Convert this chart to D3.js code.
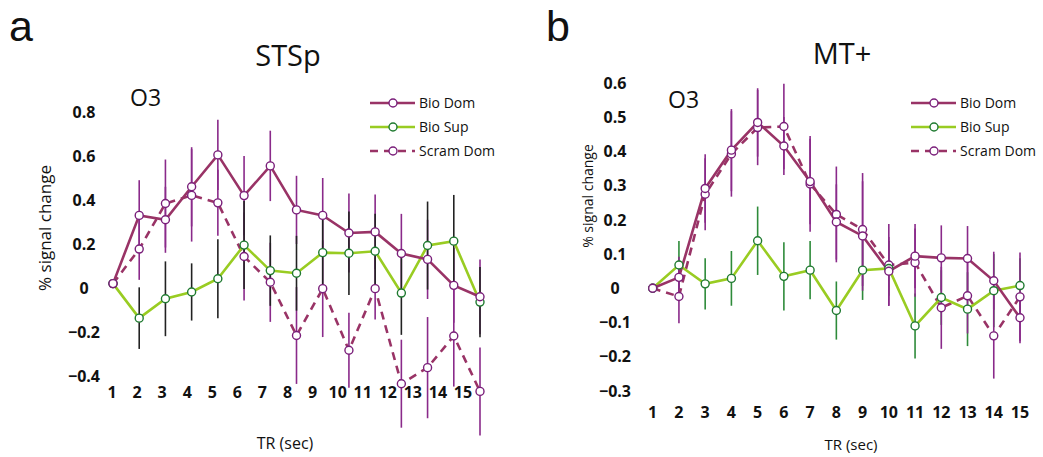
<!DOCTYPE html>
<html>
<head>
<meta charset="utf-8">
<title>STSp / MT+ time courses</title>
<script src="https://d3js.org/d3.v7.min.js"></script>
<style>
  body { margin: 0; background: #fff; }
  text { font-family: "Open Sans", "Noto Sans", sans-serif; fill: #111; }
</style>
</head>
<body>
<div id="chart"></div>
<script>
// TR (sec) categories
var trs = [1, 2, 3, 4, 5, 6, 7, 8, 9, 10, 11, 12, 13, 14, 15];
var seriesNames = ["Bio Dom", "Bio Sup", "Scram Dom"];

// panel a: STSp
var stsTicks = [0.8, 0.6, 0.4, 0.2, 0, -0.2, -0.4];
var stsBioDom  = [0.02, 0.33, 0.31, 0.46, 0.605, 0.42, 0.555, 0.355, 0.33, 0.25, 0.255, 0.157, 0.13, 0.012, -0.04];
var stsBioSup  = [0.02, -0.137, -0.049, -0.018, 0.042, 0.195, 0.079, 0.067, 0.161, 0.158, 0.167, -0.023, 0.193, 0.213, -0.064];
var stsScram   = [0.02, 0.177, 0.384, 0.421, 0.387, 0.143, 0.026, -0.216, -0.003, -0.283, -0.003, -0.435, -0.362, -0.218, -0.47];
var stsBioDomErr = [0, 0.16, 0.15, 0.18, 0.16, 0.18, 0.16, 0.155, 0.17, 0.18, 0.17, 0.18, 0.18, 0.17, 0.17];
var stsBioSupErr = [0, 0.14, 0.17, 0.13, 0.18, 0.2, 0.16, 0.17, 0.18, 0.19, 0.17, 0.19, 0.2, 0.21, 0.16];
var stsScramErr  = [0, 0.14, 0.2, 0.21, 0.15, 0.2, 0.18, 0.22, 0.22, 0.17, 0.14, 0.2, 0.23, 0.23, 0.2];

// panel b: MT+
var mtTicks = [0.6, 0.5, 0.4, 0.3, 0.2, 0.1, 0, -0.1, -0.2, -0.3];
var mtBioDom = [0, 0.032, 0.292, 0.404, 0.485, 0.416, 0.312, 0.194, 0.153, 0.05, 0.094, 0.089, 0.087, 0.022, -0.086];
var mtBioSup = [0, 0.068, 0.013, 0.029, 0.139, 0.035, 0.053, -0.065, 0.053, 0.058, -0.11, -0.027, -0.061, -0.007, 0.008];
var mtScram  = [0, -0.024, 0.275, 0.393, 0.47, 0.473, 0.305, 0.216, 0.172, 0.068, 0.075, -0.057, -0.022, -0.139, -0.025];
var mtBioDomErr = [0, 0.06, 0.1, 0.12, 0.1, 0.085, 0.125, 0.11, 0.16, 0.1, 0.094, 0.095, 0.095, 0.085, 0.075];
var mtBioSupErr = [0, 0.07, 0.075, 0.08, 0.1, 0.1, 0.085, 0.085, 0.087, 0.08, 0.095, 0.08, 0.108, 0.107, 0.08];
var mtScramErr  = [0, 0.078, 0.105, 0.125, 0.11, 0.125, 0.14, 0.14, 0.165, 0.12, 0.1, 0.12, 0.11, 0.125, 0.13];

var W = 1043, H = 457;
var colDom = "#993366", colDomBar = "#8a2a8a", colDomDot = "#7a1f7a";
var colSup = "#99cc22", colSupDot = "#1f7a30";

var svg = d3.select("#chart").append("svg")
  .attr("width", W).attr("height", H);

var panels = [
  {
    letter: "a", letterX: 9, title: "STSp", titleX: 288, titleY: 66,
    ticks: stsTicks, x: [113, 480], xLab: [112, 463], xLabY: 398,
    yDomain: [0, 0.8], yRange: [288, 112], tickX: 84,
    yTitleX: 45, yTitleY: 228, yTitleSize: 17,
    xTitleX: 285, xTitleY: 449, xTitleSize: 16,
    o3X: 130, o3Y: 106, legX: 370, legY: 103,
    supBar: "#222", supOnTop: true,
    dom: stsBioDom, sup: stsBioSup, scram: stsScram,
    domErr: stsBioDomErr, supErr: stsBioSupErr, scramErr: stsScramErr
  },
  {
    letter: "b", letterX: 546, title: "MT+", titleX: 842, titleY: 64,
    ticks: mtTicks, x: [652.7, 1020], xLab: [652.7, 1020], xLabY: 418,
    yDomain: [0, 0.6], yRange: [288.3, 83.1], tickX: 615,
    yTitleX: 588, yTitleY: 196, yTitleSize: 14,
    xTitleX: 851, xTitleY: 450, xTitleSize: 15,
    o3X: 668, o3Y: 108, legX: 911, legY: 103,
    supBar: "#2e8b3a", supOnTop: false,
    dom: mtBioDom, sup: mtBioSup, scram: mtScram,
    domErr: mtBioDomErr, supErr: mtBioSupErr, scramErr: mtScramErr
  }
];

panels.forEach(function (p) {
  var x = d3.scaleLinear().domain([1, 15]).range(p.x);
  var xl = d3.scaleLinear().domain([1, 15]).range(p.xLab);
  var y = d3.scaleLinear().domain(p.yDomain).range(p.yRange);
  var g = svg.append("g");

  var rows = function (vals, errs) {
    return trs.map(function (t, i) { return { t: t, v: vals[i], e: errs[i] }; });
  };
  var dom = rows(p.dom, p.domErr), sup = rows(p.sup, p.supErr), scram = rows(p.scram, p.scramErr);

  // panel letter and titles
  g.append("text").attr("x", p.letterX).attr("y", 41)
    .style("font-family", "'Liberation Sans', Arial, sans-serif")
    .style("font-size", "43px").text(p.letter);
  g.append("text").attr("x", p.titleX).attr("y", p.titleY)
    .attr("text-anchor", "middle").style("font-size", "29px").text(p.title);
  g.append("text").attr("x", p.o3X).attr("y", p.o3Y)
    .style("font-size", "23px").text("O3");

  // y tick labels (no axis line in the original)
  g.selectAll(".ytick").data(p.ticks).enter().append("text")
    .attr("x", p.tickX).attr("y", function (d) { return y(d); })
    .attr("dy", "0.35em").attr("text-anchor", "middle")
    .style("font-size", "16px").style("font-weight", "bold")
    .text(function (d) { return d === 0 ? "0" : d3.format(".1f")(d); });

  // x tick labels
  g.selectAll(".xtick").data(trs).enter().append("text")
    .attr("x", function (d) { return xl(d); }).attr("y", p.xLabY)
    .attr("text-anchor", "middle")
    .style("font-size", "16px").style("font-weight", "bold")
    .text(function (d) { return d; });

  g.append("text")
    .attr("transform", "translate(" + p.yTitleX + "," + p.yTitleY + ") rotate(-90)")
    .attr("dy", "0.35em").attr("text-anchor", "middle")
    .style("font-size", p.yTitleSize + "px").text("% signal change");
  g.append("text").attr("x", p.xTitleX).attr("y", p.xTitleY)
    .attr("text-anchor", "middle").style("font-size", p.xTitleSize + "px").text("TR (sec)");

  // error bars
  function bars(data, color) {
    g.append("g").selectAll("line").data(data.filter(function (d) { return d.e > 0; }))
      .enter().append("line")
      .attr("x1", function (d) { return x(d.t); }).attr("x2", function (d) { return x(d.t); })
      .attr("y1", function (d) { return y(d.v + d.e); }).attr("y2", function (d) { return y(d.v - d.e); })
      .attr("stroke", color).attr("stroke-width", 1.6);
  }
  if (p.supOnTop) {
    bars(dom, colDomBar); bars(scram, colDomBar); bars(sup, p.supBar);
  } else {
    bars(sup, p.supBar); bars(dom, colDomBar); bars(scram, colDomBar);
  }

  var line = d3.line().x(function (d) { return x(d.t); }).y(function (d) { return y(d.v); });
  g.append("path").datum(scram).attr("d", line).attr("fill", "none")
    .attr("stroke", colDom).attr("stroke-width", 2.6).attr("stroke-dasharray", "8,6");
  g.append("path").datum(sup).attr("d", line).attr("fill", "none")
    .attr("stroke", colSup).attr("stroke-width", 2.6);
  g.append("path").datum(dom).attr("d", line).attr("fill", "none")
    .attr("stroke", colDom).attr("stroke-width", 2.6);

  function dots(data, color) {
    g.append("g").selectAll("circle").data(data).enter().append("circle")
      .attr("cx", function (d) { return x(d.t); }).attr("cy", function (d) { return y(d.v); })
      .attr("r", 4).attr("fill", "#fff").attr("stroke", color).attr("stroke-width", 1.4);
  }
  dots(scram, colDomDot); dots(sup, colSupDot); dots(dom, colDomDot);

  // legend
  var legStyles = [
    { line: colDom, dot: colDomDot, dash: null },
    { line: colSup, dot: colSupDot, dash: null },
    { line: colDom, dot: colDomDot, dash: "8,6" }
  ];
  var leg = g.append("g").attr("transform", "translate(" + p.legX + "," + p.legY + ")");
  seriesNames.forEach(function (name, i) {
    var s = legStyles[i], yy = i * 24;
    leg.append("line").attr("x1", 0).attr("x2", 45).attr("y1", yy).attr("y2", yy)
      .attr("stroke", s.line).attr("stroke-width", 2.6)
      .attr("stroke-dasharray", s.dash);
    leg.append("circle").attr("cx", 23).attr("cy", yy).attr("r", 4)
      .attr("fill", "#fff").attr("stroke", s.dot).attr("stroke-width", 1.4);
    leg.append("text").attr("x", 49).attr("y", yy).attr("dy", "0.35em")
      .style("font-size", "14px").text(name);
  });
});
</script>
</body>
</html>
